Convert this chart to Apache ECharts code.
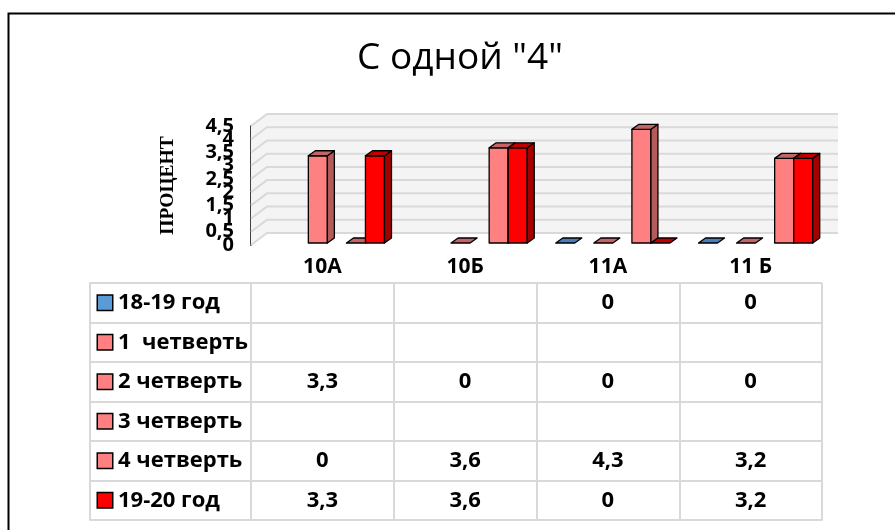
<!DOCTYPE html>
<html><head><meta charset="utf-8">
<script src="https://cdn.jsdelivr.net/npm/echarts@6/dist/echarts.min.js"></script>
<style>html,body{margin:0;padding:0;background:#fff}#c{width:895px;height:530px}</style>
</head><body><div id="c"></div>
<script>
// ---- data ----
const categories = ['10А', '10Б', '11А', '11 Б'];
const seriesNames = ['18-19 год', '1  четверть', '2 четверть', '3 четверть', '4 четверть', '19-20 год'];
const y1819 = [null, null, 0, 0];
const q1 = [null, null, null, null];
const q2 = [3.3, 0, 0, 0];
const q3 = [null, null, null, null];
const q4 = [0, 3.6, 4.3, 3.2];
const y1920 = [3.3, 3.6, 0, 3.2];
const yTicks = [0, 0.5, 1, 1.5, 2, 2.5, 3, 3.5, 4, 4.5];
const chartTitle = 'С одной "4"';
const axisTitle = 'ПРОЦЕНТ';

const rows = [y1819, q1, q2, q3, q4, y1920];

// ---- styles ----
const FONT = 'Open Sans';
const palette = [
  { face: '#5B9BD5', side: '#41719C', top: '#4A7EBB' },
  { face: '#FF8080', side: '#B35A5A', top: '#C46464' },
  { face: '#FF8080', side: '#B35A5A', top: '#C46464' },
  { face: '#FF8080', side: '#B35A5A', top: '#C46464' },
  { face: '#FF8080', side: '#B35A5A', top: '#C46464' },
  { face: '#FF0000', side: '#A50000', top: '#C00000' }
];
const TABLE_LINE = { color: '#d9d9d9', width: 2 };
const WALL_DX = 16, WALL_DY = -12;
const BAR_OX = 5, BAR_OY = -2, DEP_X = 7, DEP_Y = -5;
const fmt = v => String(v).replace('.', ',');

// wall background
const wallFill = {
  type: 'custom', xAxisIndex: 0, yAxisIndex: 0, z: 1, silent: true,
  data: [[0, 0]],
  renderItem: (params, api) => {
    const cs = params.coordSys;
    const x0 = cs.x, x1 = cs.x + cs.width, t = cs.y, b = cs.y + cs.height;
    return { type: 'group', children: [
      { type: 'polygon', shape: { points: [[x0 + WALL_DX, t + WALL_DY], [x1 + WALL_DX, t + WALL_DY], [x1 + WALL_DX, b + WALL_DY], [x0 + WALL_DX, b + WALL_DY]] }, style: { fill: '#f4f4f4' } },
      { type: 'polygon', shape: { points: [[x0, t], [x0 + WALL_DX, t + WALL_DY], [x0 + WALL_DX, b + WALL_DY], [x0, b]] }, style: { fill: '#f4f4f4' } }
    ] };
  }
};
// wall grid lines + tick labels (all labels shown, overlapping as in the original)
const wallLines = {
  type: 'custom', xAxisIndex: 0, yAxisIndex: 0, z: 2, silent: true,
  data: yTicks.map(v => [0, v]),
  renderItem: (params, api) => {
    const cs = params.coordSys;
    const v = api.value(1);
    const y = api.coord([0, v])[1];
    const x0 = cs.x, x1 = cs.x + cs.width;
    return { type: 'group', children: [
      { type: 'polyline', shape: { points: [[x0, y], [x0 + WALL_DX, y + WALL_DY], [x1 + WALL_DX, y + WALL_DY]] },
        style: { stroke: '#d9d9d9', lineWidth: 2, fill: null } },
      { type: 'text', x: x0 - 17, y: y, style: { text: fmt(v), align: 'right', verticalAlign: 'middle',
        font: 'bold 20px "Open Sans"', fill: '#000' } }
    ] };
  }
};

function barSeries(sIdx) {
  const vals = rows[sIdx];
  const col = palette[sIdx];
  const data = [];
  vals.forEach((v, i) => { if (v !== null) data.push([i, v]); });
  return {
    type: 'custom', name: seriesNames[sIdx], xAxisIndex: 0, yAxisIndex: 0, z: 3 + sIdx,
    data: data,
    renderItem: (params, api) => {
      const ci = api.value(0), v = api.value(1);
      const base = api.coord([ci, 0]);
      const top = api.coord([ci, v]);
      const catW = api.size([1, 0])[0];
      const bw = catW * 0.8 / 6;
      const x = base[0] - 3 * bw + sIdx * bw + BAR_OX;
      const yb = base[1] + BAR_OY, yt = top[1] + BAR_OY;
      const stroke = { stroke: '#000', lineWidth: 1.3, lineJoin: 'round' };
      const children = [];
      if (v > 0) {
        children.push({ type: 'rect', shape: { x: x, y: yt, width: bw, height: yb - yt }, style: Object.assign({ fill: col.face }, stroke) });
        children.push({ type: 'polygon', shape: { points: [[x + bw, yt], [x + bw + DEP_X, yt + DEP_Y], [x + bw + DEP_X, yb + DEP_Y], [x + bw, yb]] }, style: Object.assign({ fill: col.side }, stroke) });
      }
      children.push({ type: 'polygon', shape: { points: [[x, yt], [x + bw, yt], [x + bw + DEP_X, yt + DEP_Y], [x + DEP_X, yt + DEP_Y]] }, style: Object.assign({ fill: col.top }, stroke) });
      return { type: 'group', children: children };
    }
  };
}

const tableData = [];
rows.forEach((r, ri) => r.forEach((v, ci) => { if (v !== null) tableData.push([ci, ri, v]); }));

const rich = { t: { fontFamily: FONT, fontWeight: 'bold', fontSize: 22, color: '#000', padding: [0, 0, 0, 6] } };
palette.forEach((p, i) => { rich['k' + i] = { width: 14, height: 14, backgroundColor: p.face, borderColor: '#000', borderWidth: 1.5 }; });

const option = {
  animation: false,
  backgroundColor: '#fff',
  title: {
    text: chartTitle, left: 455, top: 35, textAlign: 'center',
    textStyle: { fontFamily: FONT, fontWeight: 'normal', fontSize: 37, color: '#000' }
  },
  graphic: [
    { type: 'rect', left: 6, top: 11, shape: { width: 905, height: 530 }, style: { fill: null, stroke: '#000', lineWidth: 2 }, silent: true }
  ],
  grid: [
    { left: 251, top: 126, width: 571, height: 119 },
    { left: 251, top: 283, width: 571, height: 237 }
  ],
  xAxis: [
    { type: 'category', gridIndex: 0, data: categories, axisLine: { show: false }, axisTick: { show: false }, axisLabel: { show: false }, splitLine: { show: false } },
    { type: 'category', gridIndex: 1, position: 'top', data: categories,
      axisLine: { show: true, lineStyle: TABLE_LINE },
      axisTick: { show: true, length: 38, interval: 0, lineStyle: TABLE_LINE },
      axisLabel: { margin: 5, fontFamily: FONT, fontWeight: 'bold', fontSize: 21, color: '#000', interval: 0 },
      splitLine: { show: true, interval: 0, lineStyle: TABLE_LINE } }
  ],
  yAxis: [
    { type: 'value', gridIndex: 0, min: 0, max: 4.5, interval: 0.5,
      name: axisTitle, nameLocation: 'middle', nameRotate: 90, nameGap: 73,
      nameTextStyle: { fontFamily: 'Liberation Serif', fontWeight: 'bold', fontSize: 19.5, color: '#000' },
      axisLine: { show: true, lineStyle: { color: '#404040', width: 2 } },
      axisTick: { show: false }, splitLine: { show: false },
      axisLabel: { show: false } },
    { type: 'category', gridIndex: 1, inverse: true, data: seriesNames,
      axisLine: { show: true, lineStyle: TABLE_LINE },
      axisTick: { show: true, length: 161, interval: 0, lineStyle: TABLE_LINE },
      axisLabel: { interval: 0, align: 'left', margin: 153, rich: rich,
        formatter: (val, idx) => '{k' + idx + '|}{t|' + val + '}' },
      splitLine: { show: true, interval: 0, lineStyle: TABLE_LINE } },
    { type: 'value', gridIndex: 1, offset: 161, position: 'left',
      axisLine: { show: true, onZero: false, lineStyle: TABLE_LINE },
      axisTick: { show: false }, axisLabel: { show: false }, splitLine: { show: false } }
  ],
  series: [
    wallFill, wallLines,
    barSeries(0), barSeries(1), barSeries(2), barSeries(3), barSeries(4), barSeries(5),
    { type: 'custom', xAxisIndex: 1, yAxisIndex: 1, data: tableData, z: 10, silent: true,
      encode: { x: 0, y: 1 },
      renderItem: (params, api) => {
        const p = api.coord([api.value(0), api.value(1)]);
        return { type: 'text', x: p[0], y: p[1], style: { text: fmt(api.value(2)), align: 'center', verticalAlign: 'middle',
          font: 'bold 22px "Open Sans"', fill: '#000' } };
      } }
  ]
};
const chart = echarts.init(document.getElementById('c'), null, { renderer: 'canvas' });
chart.setOption(option);
</script>
</body></html>
